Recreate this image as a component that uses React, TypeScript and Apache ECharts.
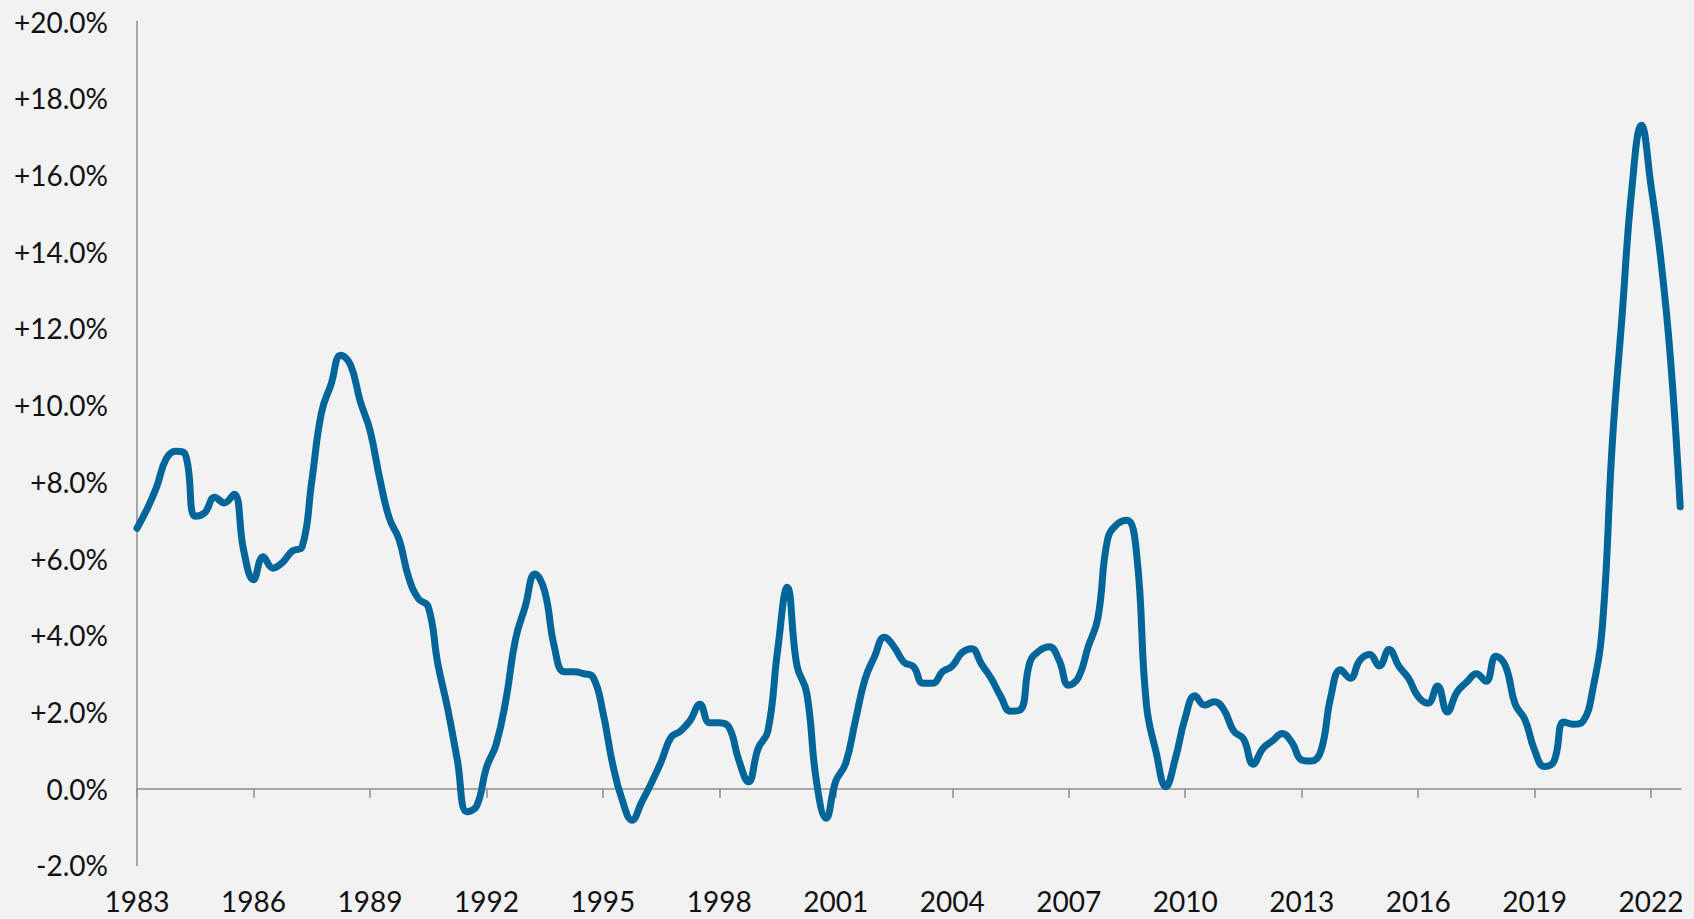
import React, { useEffect, useRef } from "react";
import * as echarts from "echarts";

// Quarterly series, first point = 1983 Q1
const startYear = 1983;
const values1983to1992 = [
  6.79, 7.27, 7.85, 8.6,
  8.8, 8.7, 7.1, 7.2,
  7.6, 7.45, 7.68, 6.2,
  5.45, 6.05, 5.75, 5.9,
  6.2, 6.3, 8.0, 9.8,
  10.55, 11.3, 11.05, 10.1,
  9.35, 8.1, 7.05, 6.5,
  5.5, 4.95, 4.75, 3.25,
  2.1, 0.75, -0.6, -0.45,
  0.55, 1.15, 2.3, 3.9,
];
const values1993to2002 = [
  4.75, 5.6, 5.15, 3.7,
  3.05, 3.05, 3.0, 2.9,
  2.0, 0.65, -0.3, -0.82,
  -0.35, 0.15, 0.7, 1.33,
  1.5, 1.78, 2.2, 1.72,
  1.72, 1.6, 0.75, 0.18,
  1.05, 1.5, 3.6, 5.25,
  3.2, 2.5, 0.2, -0.77,
  0.2, 0.65, 1.75, 2.85,
  3.45, 3.95, 3.7, 3.3,
];
const values2003to2012 = [
  3.18, 2.75, 2.75, 3.05,
  3.2, 3.55, 3.65, 3.25,
  2.88, 2.4, 2.02, 2.05,
  3.3, 3.6, 3.7, 3.35,
  2.7, 2.9, 3.7, 4.45,
  6.5, 6.9, 7.0, 6.1,
  2.2, 0.95, 0.05, 0.8,
  1.85, 2.42, 2.18, 2.27,
  2.05, 1.5, 1.3, 0.64,
  1.05, 1.25, 1.44, 1.2,
];
const values2013to2022 = [
  0.75, 0.72, 1.0, 2.4,
  3.1, 2.88, 3.35, 3.5,
  3.2, 3.63, 3.2, 2.88,
  2.4, 2.23, 2.68, 2.0,
  2.52, 2.78, 3.0, 2.8,
  3.45, 3.2, 2.2, 1.8,
  1.0, 0.58, 0.72, 1.74,
  1.68, 1.76, 2.6, 4.3,
  9.0, 12.3, 15.6, 17.3,
  15.7, 13.8, 11.2, 7.35,
];

const xTickYears = [1983, 1986, 1989, 1992, 1995, 1998, 2001, 2004, 2007, 2010, 2013, 2016, 2019, 2022];
const yMin = -2;
const yMax = 20;
const yStep = 2;

const allValues = [...values1983to1992, ...values1993to2002, ...values2003to2012, ...values2013to2022];

const fontFamily = "Lato, 'Open Sans', sans-serif";

export default function App() {
  const ref = useRef<HTMLDivElement>(null);

  useEffect(() => {
    if (!ref.current) return;
    const chart = echarts.init(ref.current, undefined, { renderer: "svg" });
    const data = allValues.map((v, i) => [startYear + i / 4, v]);
    const xMax = 2022.77;

    chart.setOption({
      animation: false,
      backgroundColor: "#f2f2f2",
      textStyle: { fontFamily },
      grid: { left: 137, right: 13, top: 21.6, bottom: 53.6, containLabel: false },
      xAxis: [
        {
          type: "value",
          min: startYear,
          max: xMax,
          interval: 3,
          position: "bottom",
          axisLine: { show: true, onZero: true, lineStyle: { color: "#8c8c8c", width: 1.5 } },
          axisTick: {
            show: true,
            length: 9,
            inside: false,
            customValues: xTickYears,
            lineStyle: { color: "#8c8c8c", width: 1.5 },
          },
          axisLabel: { show: false },
          splitLine: { show: false },
        },
        {
          type: "value",
          min: startYear,
          max: xMax,
          interval: 3,
          position: "bottom",
          axisLine: { show: false, onZero: false },
          axisTick: { show: false },
          splitLine: { show: false },
          axisLabel: {
            show: true,
            margin: 22,
            fontSize: 28,
            color: "#111111",
            fontFamily,
            customValues: xTickYears,
            formatter: (v: number) => String(Math.round(v)),
          },
        },
      ],
      yAxis: {
        type: "value",
        min: yMin,
        max: yMax,
        interval: yStep,
        axisLine: { show: true, onZero: false, lineStyle: { color: "#8c8c8c", width: 1.5 } },
        axisTick: { show: false },
        splitLine: { show: false },
        axisLabel: {
          margin: 29,
          fontSize: 28,
          color: "#111111",
          fontFamily,
          formatter: (v: number) => {
            if (Math.abs(v) < 1e-9) return "0.0%";
            return (v > 0 ? "+" : "") + v.toFixed(1) + "%";
          },
        },
      },
      series: [
        {
          type: "line",
          xAxisIndex: 0,
          data,
          smooth: 0.45,
          showSymbol: false,
          symbol: "none",
          lineStyle: { color: "#006699", width: 7, cap: "round", join: "round" },
          itemStyle: { color: "#006699" },
        },
      ],
    });

    return () => chart.dispose();
  }, []);

  return (
    <div
      ref={ref}
      style={{ position: "fixed", left: 0, top: 0, width: 1694, height: 919, background: "#f2f2f2" }}
    />
  );
}
